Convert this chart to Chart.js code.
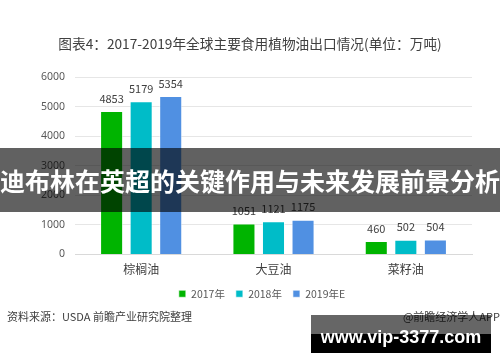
<!DOCTYPE html>
<html>
<head>
<meta charset="utf-8">
<script src="https://cdn.jsdelivr.net/npm/chart.js@4"></script>
<style>
  body { margin: 0; background: #fff; }
  #wrap { position: relative; width: 500px; height: 362px; overflow: hidden; font-family: "Noto Sans CJK SC", "Noto Sans", sans-serif; }
  #chart { position: absolute; left: 0; top: 0; }
  .txt { position: absolute; white-space: nowrap; color: #404040; }
  #title { left: 0; width: 500px; top: 33px; text-align: center; font-size: 13.7px; }
  #source { left: 7px; top: 308px; font-size: 11px; }
  #app { right: 0px; top: 308px; font-size: 11px; }
  #band { position: absolute; left: 0; top: 148px; width: 500px; height: 64px; background: rgba(0,0,0,0.62); }
  #bandText { position: absolute; left: 0; top: 148px; width: 500px; height: 64px; line-height: 64px; text-align: center; color: #fff; font-weight: bold; font-size: 25px; }
  #urlTop { position: absolute; left: 311px; top: 315px; width: 180px; height: 19px; background: rgba(0,0,0,0.6); }
  #urlBot { position: absolute; left: 311px; top: 334px; width: 180px; height: 19px; background: #000; }
  #urlText { position: absolute; left: 311px; top: 315px; width: 180px; height: 38px; line-height: 44px; text-align: center; color: #fff; font-weight: bold; font-size: 18px; font-family: "Liberation Sans", sans-serif; }
</style>
</head>
<body>
<div id="wrap">
  <canvas id="chart" width="500" height="362"></canvas>
  <div class="txt" id="title">图表4：2017-2019年全球主要食用植物油出口情况(单位：万吨)</div>
  <div class="txt" id="source">资料来源：USDA 前瞻产业研究院整理</div>
  <div class="txt" id="app">@前瞻经济学人APP</div>
  <div id="band"></div>
  <div id="bandText">迪布林在英超的关键作用与未来发展前景分析</div>
  <div id="urlTop"></div>
  <div id="urlBot"></div>
  <div id="urlText">www.vip-3377.com</div>
</div>
<script>
const categories = ['棕榈油', '大豆油', '菜籽油'];
const seriesNames = ['2017年', '2018年', '2019年E'];
const values2017 = [4853, 1051, 460];
const values2018 = [5179, 1121, 502];
const values2019 = [5354, 1175, 504];
const yTicks = [0, 1000, 2000, 3000, 4000, 5000, 6000];

const colors = ['#00b400', '#00bcc8', '#5090e2'];

// draws the number above each bar
const valueLabels = {
  id: 'valueLabels',
  afterDatasetsDraw(chart) {
    const ctx = chart.ctx;
    ctx.save();
    ctx.font = '11px "Noto Sans CJK SC", "Noto Sans", sans-serif';
    ctx.fillStyle = '#404040';
    ctx.textAlign = 'center';
    ctx.textBaseline = 'bottom';
    chart.data.datasets.forEach((ds, i) => {
      chart.getDatasetMeta(i).data.forEach((bar, j) => {
        ctx.fillText(ds.data[j], bar.x, bar.y - 7);
      });
    });
    ctx.restore();
  }
};

// legend in the original sits a bit right of centre
const legendShift = {
  id: 'legendShift',
  afterLayout(chart) {
    chart.legend.left += 26;
    chart.legend.right += 26;
  }
};

const ctx = document.getElementById('chart').getContext('2d');
new Chart(ctx, {
  type: 'bar',
  data: {
    labels: categories,
    datasets: [values2017, values2018, values2019].map((vals, i) => ({
      label: seriesNames[i],
      data: vals,
      backgroundColor: colors[i],
      borderColor: 'rgba(255,255,255,0.6)',
      borderWidth: 1,
      categoryPercentage: 0.67,
      barPercentage: 0.78
    }))
  },
  options: {
    responsive: false,
    animation: false,
    layout: { padding: { top: 77, right: 28, bottom: 53, left: 0 } },
    plugins: {
      legend: {
        position: 'bottom',
        labels: {
          boxWidth: 7,
          boxHeight: 7,
          padding: 11,
          color: '#595959',
          font: { size: 10.5, family: '"Noto Sans CJK SC", "Noto Sans", sans-serif' }
        }
      },
      tooltip: { enabled: false }
    },
    scales: {
      x: {
        grid: { display: false },
        border: { color: '#d9d9d9', width: 1 },
        ticks: {
          color: '#404040',
          padding: 0,
          font: { size: 12, family: '"Noto Sans CJK SC", "Noto Sans", sans-serif' }
        },
        afterFit(scale) { scale.height = 23; }
      },
      y: {
        min: 0,
        max: 6000,
        afterBuildTicks(scale) { scale.ticks = yTicks.map(v => ({ value: v })); },
        grid: { color: '#e6e6e6', drawTicks: false },
        border: { display: false },
        ticks: {
          color: '#595959',
          padding: 10,
          callback: v => String(v),
          font: { size: 10.5, family: '"Noto Sans", sans-serif' }
        },
        afterFit(scale) { scale.width = 75; }
      }
    }
  },
  plugins: [valueLabels, legendShift]
});
</script>
</body>
</html>
